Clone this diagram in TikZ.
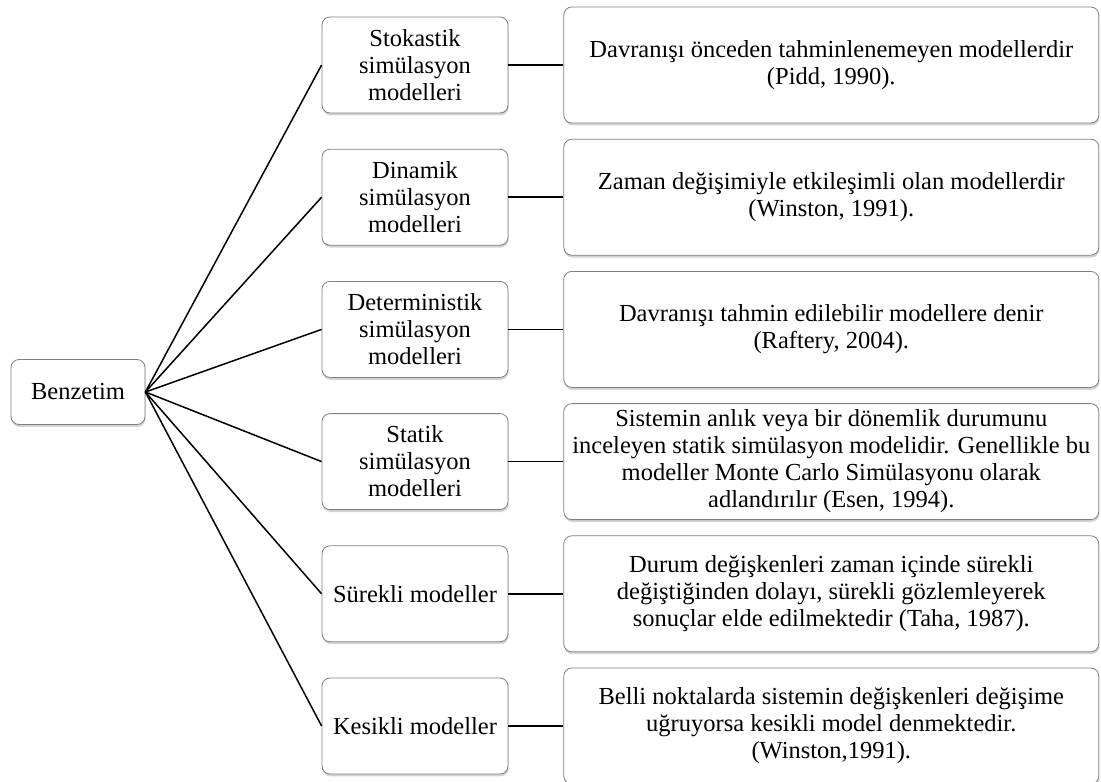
\documentclass[tikz,border=0pt]{standalone}
\usepackage{fontspec}
\setmainfont{Liberation Serif}
\usetikzlibrary{positioning, shadows}

\begin{document}
\begin{tikzpicture}[
  font = \fontsize{24.5pt}{27pt}\selectfont,
  box/.style = {draw=black!50, line width=0.8pt, rounded corners=8pt, fill=white, align=center,
    drop shadow={opacity=0.35, shadow xshift=0.6pt, shadow yshift=-2.4pt}},
  root/.style = {box, minimum width=134pt, minimum height=65pt},
  kind/.style = {box, minimum width=186pt, minimum height=96pt, inner xsep=2pt},
  info/.style = {box, minimum width=535pt, minimum height=116pt, inner xsep=1pt},
  link/.style = {line width=1.5pt},
  node distance=35.4pt and 55pt
]
  \useasboundingbox (0,0) rectangle (1101pt,-782pt);

  % Root node
  \node[root] (benzetim) at (78pt,-392pt) {Benzetim};

  % Model types
  \node[kind] (stok) at (415pt,-65pt) {Stokastik\\simülasyon\\modelleri};
  \node[kind, below=of stok] (dinamik) {Dinamik\\simülasyon\\modelleri};
  \node[kind, below=of dinamik] (determ) {Deterministik\\simülasyon\\modelleri};
  \node[kind, below=of determ] (statik) {Statik\\simülasyon\\modelleri};
  \node[kind, below=of statik] (surekli) {Sürekli modeller};
  \node[kind, below=of surekli] (kesikli) {Kesikli modeller};

  % Descriptions
  \node[info, right=of stok] (stokinfo) {Davranışı önceden tahminlenemeyen modellerdir\\(Pidd, 1990).};
  \node[info, right=of dinamik] (dinamikinfo) {Zaman değişimiyle etkileşimli olan modellerdir\\(Winston, 1991).};
  \node[info, right=of determ] (determinfo) {Davranışı tahmin edilebilir modellere denir\\(Raftery, 2004).};
  \node[info, right=of statik] (statikinfo) {Sistemin anlık veya bir dönemlik durumunu\\inceleyen statik simülasyon modelidir. Genellikle bu\\modeller Monte Carlo Simülasyonu olarak\\adlandırılır (Esen, 1994).};
  \node[info, right=of surekli] (surekliinfo) {Durum değişkenleri zaman içinde sürekli\\değiştiğinden dolayı, sürekli gözlemleyerek\\sonuçlar elde edilmektedir (Taha, 1987).};
  \node[info, right=of kesikli] (kesikliinfo) {Belli noktalarda sistemin değişkenleri değişime\\uğruyorsa kesikli model denmektedir.\\(Winston,1991).};

  % Root to model types
  \draw[link] (benzetim.east) -- (stok.west);
  \draw[link] (benzetim.east) -- (dinamik.west);
  \draw[link] (benzetim.east) -- (determ.west);
  \draw[link] (benzetim.east) -- (statik.west);
  \draw[link] (benzetim.east) -- (surekli.west);
  \draw[link] (benzetim.east) -- (kesikli.west);

  % Model types to descriptions
  \draw[link] (stok) -- (stokinfo);
  \draw[link] (dinamik) -- (dinamikinfo);
  \draw[link] (determ) -- (determinfo);
  \draw[link] (statik) -- (statikinfo);
  \draw[link] (surekli) -- (surekliinfo);
  \draw[link] (kesikli) -- (kesikliinfo);

\end{tikzpicture}
\end{document}
